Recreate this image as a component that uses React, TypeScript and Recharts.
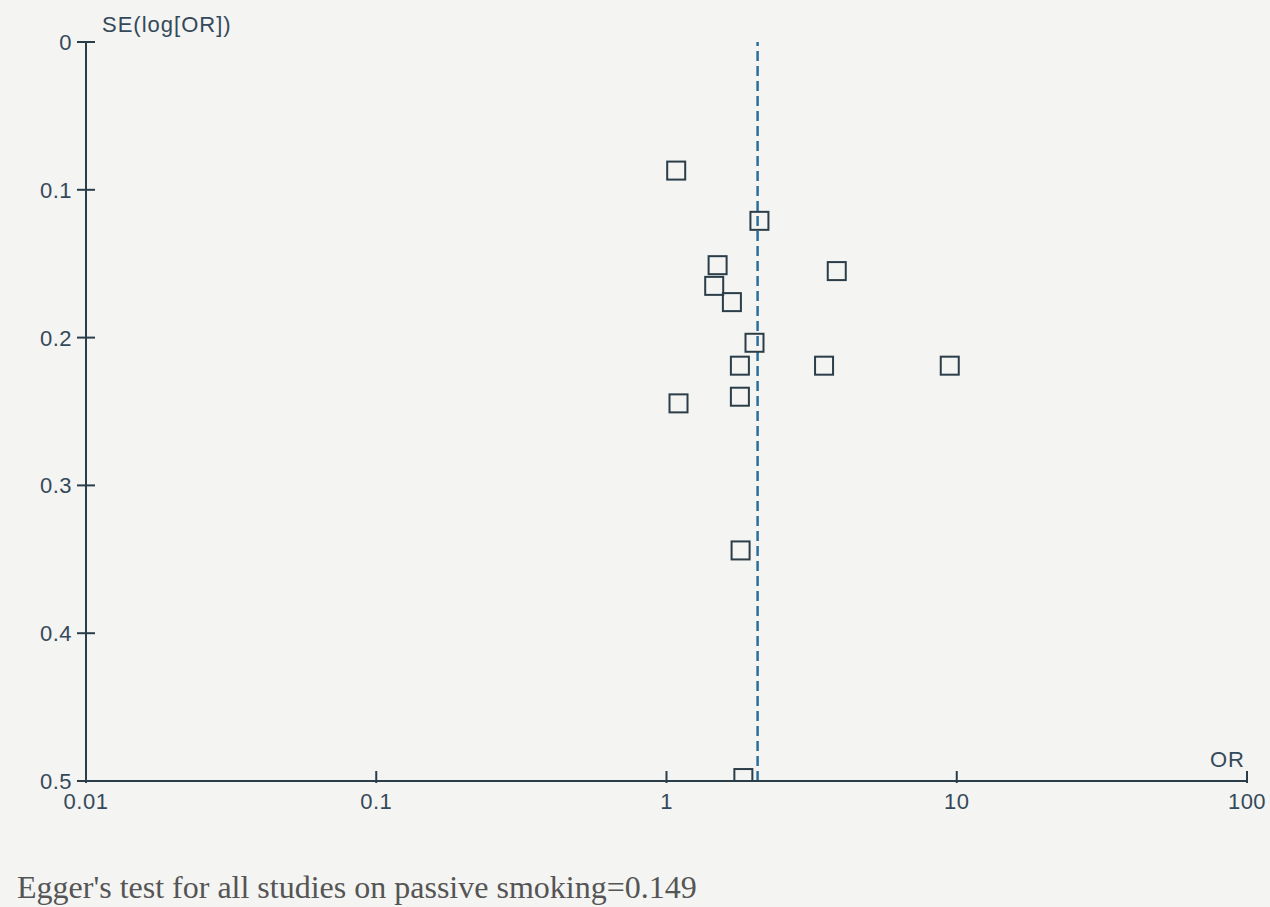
import React from "react";
import {
  ScatterChart,
  Scatter,
  XAxis,
  YAxis,
  ReferenceLine,
} from "recharts";

// study-level odds ratios and their standard errors (log scale)
const orValues = [1.08, 2.09, 1.5, 3.86, 1.46, 1.68, 2.01, 1.79, 3.49, 9.46, 1.79, 1.1, 1.8, 1.84];
const seValues = [0.087, 0.121, 0.151, 0.155, 0.165, 0.176, 0.2035, 0.219, 0.219, 0.219, 0.24, 0.2445, 0.344, 0.498];
const pooledOR = 2.06;

const xTicks = [0.01, 0.1, 1, 10, 100];
const yTicks = [0, 0.1, 0.2, 0.3, 0.4, 0.5];

const studies = orValues.map((or, i) => ({ or, se: seValues[i] }));

const ink = "#2b3d48";
const textInk = "#34495a";
const paper = "#f4f4f2";
const tickFont = "'Liberation Sans', Arial, sans-serif";

const XTick = (props: any) => {
  const { x, y, payload } = props;
  return (
    <g>
      <line x1={x} x2={x} y1={y - 10} y2={y + 2} stroke={ink} strokeWidth={2} />
      <text
        x={x}
        y={y + 28}
        textAnchor="middle"
        fill={textInk}
        fontSize={22}
        fontFamily={tickFont}
        letterSpacing={0.5}
      >
        {String(payload.value)}
      </text>
    </g>
  );
};

const YTick = (props: any) => {
  const { x, y, payload } = props;
  return (
    <g>
      <line x1={x - 9} x2={x + 9} y1={y} y2={y} stroke={ink} strokeWidth={2} />
      <text
        x={x - 14}
        y={y + 8}
        textAnchor="end"
        fill={textInk}
        fontSize={22}
        fontFamily={tickFont}
        letterSpacing={0.5}
      >
        {String(payload.value)}
      </text>
    </g>
  );
};

const Square = (props: any) => {
  const { cx, cy } = props;
  return (
    <rect x={cx - 9} y={cy - 9} width={18} height={18} fill="none" stroke={ink} strokeWidth={2} />
  );
};

export default function App() {
  return (
    <div style={{ position: "relative", width: 1270, height: 907, background: paper, overflow: "hidden" }}>
      <style>{"body{margin:0}"}</style>
      <ScatterChart
        width={1270}
        height={907}
        margin={{ top: 42, right: 23, bottom: 86, left: 26 }}
      >
        <XAxis
          type="number"
          dataKey="or"
          scale="log"
          domain={[0.01, 100]}
          ticks={xTicks}
          allowDataOverflow
          height={40}
          tickSize={0}
          tickMargin={0}
          tickLine={false}
          tick={XTick}
          axisLine={{ stroke: ink, strokeWidth: 2 }}
        />
        <YAxis
          type="number"
          dataKey="se"
          reversed
          domain={[0, 0.5]}
          ticks={yTicks}
          allowDataOverflow
          width={60}
          tickSize={0}
          tickMargin={0}
          tickLine={false}
          tick={YTick}
          axisLine={{ stroke: ink, strokeWidth: 2 }}
        />
        <ReferenceLine
          x={pooledOR}
          stroke="#2b6f9e"
          strokeWidth={2.5}
          strokeDasharray="10 5"
        />
        <Scatter data={studies} shape={Square} isAnimationActive={false} />
      </ScatterChart>
      <div
        style={{
          position: "absolute",
          left: 102,
          top: 13,
          fontFamily: tickFont,
          fontSize: 22,
          lineHeight: "24px",
          letterSpacing: 1,
          color: textInk,
        }}
      >
        SE(log[OR])
      </div>
      <div
        style={{
          position: "absolute",
          right: 25,
          top: 748,
          fontFamily: tickFont,
          fontSize: 22,
          lineHeight: "24px",
          letterSpacing: 1,
          color: textInk,
        }}
      >
        OR
      </div>
      <div
        style={{
          position: "absolute",
          left: 17,
          top: 871,
          fontFamily: "'Liberation Serif', 'Times New Roman', serif",
          fontSize: 32,
          lineHeight: "32px",
          color: "#555",
          whiteSpace: "nowrap",
        }}
      >
        Egger's test for all studies on passive smoking=0.149
      </div>
    </div>
  );
}
